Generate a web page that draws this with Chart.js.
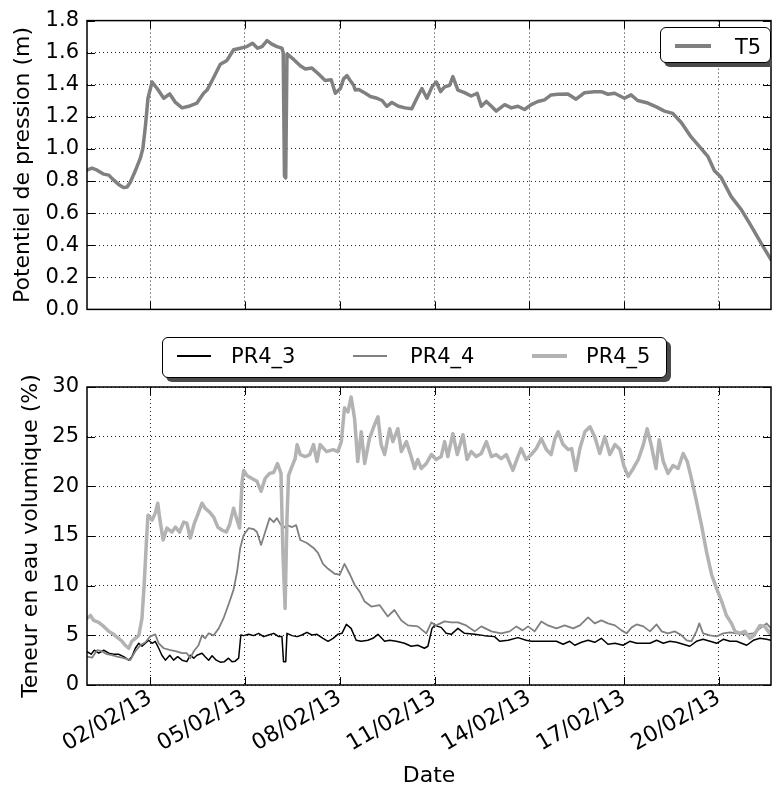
<!DOCTYPE html>
<html lang="fr">
<head>
  <meta charset="UTF-8">
  <title>Potentiel de pression et teneur en eau</title>
  <script src="https://cdn.jsdelivr.net/npm/chart.js"></script>
  <style>
    body { margin: 0; background: #fff; font-family: "DejaVu Sans", sans-serif; }
    #page { position: relative; width: 772px; height: 789px; overflow: hidden; }
    .plot { position: absolute; left: 0; width: 772px; }
    .lg { position: absolute; box-sizing: border-box; background: #fff; border: 1.5px solid #000;
          border-radius: 6px; box-shadow: 4px 4px 0 #4a4a4a; }
    .ln { position: absolute; }
    .tx { position: absolute; font-size: 21px; line-height: 21px; color: #000; white-space: nowrap; }
  </style>
</head>
<body>
<div id="page">
  <div class="plot" style="top:0;height:330px"><canvas id="hautChart"></canvas></div>
  <div class="plot" style="top:330px;height:459px"><canvas id="basChart"></canvas></div>

  <!-- legende haut -->
  <div class="lg" style="left:660px;top:27px;width:111px;height:36px"></div>
  <div class="ln" style="left:675px;top:44px;width:36px;height:3.5px;background:#808080"></div>
  <div class="tx" style="left:735px;top:37px">T5</div>

  <!-- legende bas -->
  <div class="lg" style="left:162px;top:337px;width:505px;height:41px"></div>
  <div class="ln" style="left:177px;top:355px;width:34px;height:1.5px;background:#000"></div>
  <div class="tx" style="left:231px;top:346px">PR4_3</div>
  <div class="ln" style="left:353px;top:355px;width:34px;height:1.8px;background:#808080"></div>
  <div class="tx" style="left:410px;top:346px">PR4_4</div>
  <div class="ln" style="left:532px;top:354px;width:35px;height:3.5px;background:#b3b3b3"></div>
  <div class="tx" style="left:586px;top:346px">PR4_5</div>
</div>

<script>
  // jours depuis le 31/01/13 00:00
  const xMax = 21.65;
  const tickDays = [2, 5, 8, 11, 14, 17, 20];
  const tickLabels = ['02/02/13', '05/02/13', '08/02/13', '11/02/13', '14/02/13', '17/02/13', '20/02/13'];

  // T5 - potentiel de pression (m)
  const t5Day = [0, 0.16, 0.32, 0.53, 0.69, 0.84, 1.0, 1.16, 1.27, 1.37,
    1.53, 1.69, 1.77, 1.85, 1.93, 2.06, 2.22, 2.43, 2.62, 2.80,
    3.01, 3.22, 3.48, 3.69, 3.80, 3.96, 4.22, 4.43, 4.64, 4.85,
    5.06, 5.24, 5.40, 5.54, 5.70, 5.85, 6.01, 6.17, 6.21, 6.25,
    6.29, 6.33, 6.54, 6.75, 6.91, 7.12, 7.33, 7.54, 7.73, 7.86,
    8.02, 8.12, 8.23, 8.33, 8.44, 8.49, 8.60, 8.81, 8.97, 9.18,
    9.34, 9.49, 9.65, 9.86, 10.07, 10.28, 10.44, 10.60, 10.76, 10.92,
    11.06, 11.19, 11.32, 11.48, 11.58, 11.74, 11.95, 12.16, 12.35, 12.48,
    12.64, 12.80, 12.95, 13.22, 13.43, 13.64, 13.85, 14.06, 14.27, 14.48,
    14.69, 14.90, 15.22, 15.48, 15.75, 16.06, 16.28, 16.49, 16.70, 17.01,
    17.22, 17.43, 17.75, 18.02, 18.28, 18.54, 18.81, 19.12, 19.34, 19.65,
    19.86, 20.07, 20.39, 20.71, 21.02, 21.34, 21.65];
  const t5Val = [0.868, 0.88, 0.868, 0.843, 0.837, 0.807, 0.779, 0.759, 0.763, 0.793,
    0.864, 0.944, 1.004, 1.145, 1.316, 1.417, 1.377, 1.316, 1.343, 1.29,
    1.256, 1.266, 1.286, 1.347, 1.367, 1.427, 1.528, 1.552, 1.618, 1.628,
    1.638, 1.659, 1.628, 1.638, 1.675, 1.653, 1.638, 1.628, 1.60, 0.83,
    0.82, 1.592, 1.558, 1.518, 1.498, 1.504, 1.467, 1.427, 1.431, 1.347,
    1.377, 1.437, 1.457, 1.427, 1.397, 1.367, 1.371, 1.347, 1.327, 1.316,
    1.302, 1.266, 1.29, 1.266, 1.256, 1.25, 1.316, 1.377, 1.316, 1.387,
    1.417, 1.357, 1.387, 1.397, 1.451, 1.367, 1.351, 1.33, 1.347, 1.266,
    1.296, 1.266, 1.236, 1.276, 1.256, 1.266, 1.246, 1.276, 1.296, 1.306,
    1.337, 1.341, 1.343, 1.31, 1.351, 1.357, 1.357, 1.341, 1.347, 1.316,
    1.337, 1.302, 1.286, 1.262, 1.236, 1.222, 1.165, 1.075, 1.025, 0.954,
    0.864, 0.823, 0.703, 0.622, 0.521, 0.411, 0.31];

  // PR4_3 - teneur en eau (%)
  const pr43Day = [0, 0.13, 0.23, 0.37, 0.53, 0.69, 0.84, 1.0, 1.16, 1.32,
    1.42, 1.53, 1.64, 1.74, 1.85, 1.95, 2.06, 2.16, 2.27, 2.37,
    2.48, 2.62, 2.74, 2.87, 3.01, 3.16, 3.27, 3.38, 3.48, 3.64,
    3.74, 3.85, 3.96, 4.09, 4.22, 4.35, 4.48, 4.59, 4.69, 4.80,
    4.87, 4.96, 5.12, 5.27, 5.43, 5.59, 5.75, 5.91, 6.07, 6.17,
    6.22, 6.29, 6.33, 6.49, 6.65, 6.80, 6.96, 7.12, 7.28, 7.47,
    7.63, 7.79, 7.94, 8.07, 8.21, 8.36, 8.52, 8.68, 8.89, 9.05,
    9.21, 9.42, 9.58, 9.79, 10.05, 10.26, 10.47, 10.68, 10.79, 10.92,
    11.0, 11.21, 11.37, 11.53, 11.74, 11.95, 12.27, 12.58, 12.90, 13.06,
    13.33, 13.64, 13.90, 14.06, 14.32, 14.59, 14.86, 15.07, 15.28, 15.44,
    15.65, 15.86, 16.07, 16.28, 16.49, 16.71, 16.97, 17.18, 17.40, 17.61,
    17.82, 18.03, 18.24, 18.45, 18.66, 18.87, 19.08, 19.29, 19.50, 19.72,
    19.93, 20.14, 20.35, 20.56, 20.88, 21.09, 21.30, 21.51, 21.65];
  const pr43Val = [3.35, 3.1, 3.5, 3.2, 3.5, 3.2, 3.1, 3.1, 2.85, 2.5,
    2.85, 3.7, 4.2, 3.9, 4.2, 4.5, 4.2, 4.4, 3.7, 3.0,
    2.5, 3.0, 2.5, 2.85, 2.5, 2.35, 3.0, 2.7, 3.0, 3.2,
    2.85, 2.5, 2.95, 2.5, 2.3, 2.35, 2.7, 2.35, 2.4, 2.7,
    5.03, 4.97, 5.1, 4.97, 5.2, 4.87, 5.03, 5.2, 4.87, 4.87,
    2.35, 2.35, 5.2, 4.97, 4.87, 5.03, 5.3, 5.03, 5.1, 4.7,
    4.4, 4.7, 5.1, 5.2, 6.1, 5.7, 4.5, 4.4, 4.5, 4.7,
    5.1, 4.4, 4.5, 4.4, 4.2, 3.9, 4.0, 3.7, 3.9, 5.7,
    6.0, 5.8, 5.2, 5.1, 5.7, 5.2, 5.1, 4.97, 4.87, 4.4,
    4.5, 4.77, 4.5, 4.4, 4.4, 4.4, 4.4, 4.1, 4.4, 4.0,
    4.3, 4.5, 4.3, 4.7, 4.1, 4.2, 4.0, 4.4, 4.2, 4.2,
    4.2, 4.5, 4.2, 4.4, 4.3, 4.1, 3.9, 4.4, 4.6, 4.4,
    4.2, 4.6, 4.4, 4.4, 4.0, 4.5, 4.7, 4.6, 4.5];

  // PR4_4
  const pr44Day = [0, 0.16, 0.32, 0.47, 0.63, 0.79, 0.95, 1.11, 1.27, 1.37,
    1.53, 1.69, 1.85, 2.0, 2.16, 2.27, 2.43, 2.64, 2.80, 3.01,
    3.16, 3.27, 3.38, 3.53, 3.64, 3.74, 3.85, 4.01, 4.17, 4.32,
    4.48, 4.64, 4.75, 4.85, 4.96, 5.12, 5.27, 5.38, 5.51, 5.64,
    5.78, 5.91, 6.01, 6.12, 6.22, 6.33, 6.49, 6.62, 6.75, 6.96,
    7.17, 7.31, 7.47, 7.63, 7.84, 8.0, 8.15, 8.31, 8.47, 8.63,
    8.79, 9.0, 9.26, 9.52, 9.73, 9.95, 10.16, 10.47, 10.74, 10.90,
    11.05, 11.32, 11.53, 11.74, 12.0, 12.27, 12.48, 12.80, 13.11, 13.38,
    13.59, 13.79, 13.96, 14.17, 14.38, 14.59, 14.86, 15.12, 15.39, 15.60,
    15.86, 16.07, 16.28, 16.49, 16.71, 16.92, 17.08, 17.24, 17.40, 17.61,
    17.82, 18.03, 18.19, 18.39, 18.60, 18.82, 18.98, 19.13, 19.29, 19.38,
    19.50, 19.72, 19.93, 20.14, 20.35, 20.56, 20.82, 21.09, 21.30, 21.51,
    21.65];
  const pr44Val = [2.85, 2.75, 3.5, 3.4, 3.1, 3.0, 2.85, 2.75, 2.6, 2.5,
    3.4, 4.0, 4.3, 4.9, 5.1, 4.2, 3.7, 3.5, 3.4, 3.2,
    3.2, 2.7, 3.4, 4.0, 5.0, 4.7, 5.2, 5.0, 5.7, 6.7,
    8.1, 9.6, 11.4, 13.8, 15.1, 15.8, 15.7, 15.4, 14.1, 15.4,
    16.8, 16.4, 16.8, 16.2, 15.8, 16.1, 15.9, 16.1, 14.6, 14.3,
    13.8, 13.3, 12.2, 11.7, 11.2, 11.1, 12.2, 11.2, 10.1, 9.4,
    8.4, 7.9, 8.05, 6.9, 7.55, 6.5, 6.0, 5.9, 5.2, 6.3,
    6.0, 6.4, 6.3, 6.3, 6.0, 5.4, 5.9, 5.4, 5.2, 5.4,
    5.9, 5.5, 5.9, 5.4, 6.4, 6.0, 5.7, 6.0, 5.7, 6.0,
    6.8, 6.2, 6.5, 6.2, 6.0, 5.5, 5.2, 5.8, 6.1, 5.9,
    5.4, 6.1, 5.4, 5.2, 5.4, 5.0, 4.5, 4.4, 5.4, 6.2,
    5.2, 5.0, 4.9, 5.2, 5.3, 5.2, 5.1, 5.2, 5.7, 6.2,
    5.7];

  // PR4_5
  const pr45Day = [0, 0.11, 0.21, 0.37, 0.53, 0.69, 0.84, 1.0, 1.11, 1.21,
    1.32, 1.42, 1.53, 1.64, 1.74, 1.81, 1.88, 1.93, 2.06, 2.16,
    2.24, 2.30, 2.41, 2.53, 2.69, 2.80, 2.93, 3.06, 3.16, 3.27,
    3.40, 3.50, 3.64, 3.74, 3.88, 4.01, 4.14, 4.27, 4.41, 4.51,
    4.64, 4.73, 4.83, 4.91, 4.96, 5.06, 5.22, 5.38, 5.51, 5.64,
    5.78, 5.91, 6.03, 6.14, 6.20, 6.27, 6.33, 6.38, 6.49, 6.59,
    6.65, 6.75, 6.91, 7.05, 7.17, 7.28, 7.38, 7.58, 7.79, 7.94,
    8.05, 8.15, 8.26, 8.36, 8.47, 8.57, 8.68, 8.79, 8.94, 9.10,
    9.21, 9.31, 9.42, 9.58, 9.68, 9.84, 9.95, 10.11, 10.26, 10.37,
    10.47, 10.58, 10.74, 10.90, 11.05, 11.21, 11.32, 11.42, 11.58, 11.72,
    11.90, 12.03, 12.16, 12.32, 12.48, 12.64, 12.80, 12.95, 13.11, 13.27,
    13.48, 13.64, 13.74, 13.90, 14.06, 14.22, 14.38, 14.54, 14.69, 14.81,
    14.91, 15.07, 15.23, 15.34, 15.47, 15.60, 15.76, 15.92, 16.07, 16.23,
    16.39, 16.55, 16.71, 16.87, 16.99, 17.13, 17.29, 17.45, 17.61, 17.73,
    17.87, 18.01, 18.11, 18.24, 18.39, 18.55, 18.71, 18.87, 19.00, 19.13,
    19.29, 19.45, 19.61, 19.77, 19.93, 20.09, 20.24, 20.40, 20.51, 20.67,
    20.82, 20.98, 21.11, 21.30, 21.45, 21.61, 21.65];
  const pr45Val = [6.7, 7.0, 6.5, 6.3, 5.9, 5.4, 5.1, 4.7, 4.4, 4.0,
    3.7, 4.4, 4.7, 5.0, 6.7, 10.1, 14.4, 17.1, 16.6, 17.3,
    18.3, 16.8, 14.6, 15.8, 15.4, 15.9, 15.4, 16.4, 16.3, 14.8,
    16.3, 17.1, 18.3, 17.8, 17.4, 16.9, 15.9, 15.6, 15.4, 16.1,
    17.8, 16.8, 15.8, 20.5, 21.6, 21.1, 20.8, 20.5, 19.5, 20.8,
    21.3, 21.4, 22.3, 21.3, 13.4, 7.7, 16.8, 21.1, 22.0, 22.8,
    24.2, 23.2, 23.0, 23.2, 24.2, 22.5, 24.2, 23.5, 23.7, 23.5,
    24.5, 27.9, 27.5, 29.0, 26.8, 22.5, 25.5, 22.3, 24.8, 26.2,
    27.0, 24.2, 23.2, 25.8, 24.5, 25.8, 23.5, 24.5, 23.0, 21.8,
    22.7, 21.8, 22.3, 23.2, 22.7, 23.0, 24.5, 23.0, 25.3, 23.2,
    25.2, 22.7, 23.5, 23.0, 23.3, 24.5, 23.0, 23.2, 22.8, 23.2,
    21.6, 23.0, 23.8, 22.7, 23.2, 23.8, 24.8, 23.7, 23.2, 24.8,
    25.5, 24.2, 23.7, 23.8, 21.6, 23.8, 25.5, 26.0, 25.0, 23.3,
    25.0, 23.2, 24.2, 23.7, 22.1, 21.0, 21.8, 22.7, 24.2, 25.8,
    24.0, 21.8, 24.7, 22.5, 21.3, 22.1, 21.8, 23.3, 22.5, 20.8,
    18.5, 16.1, 13.4, 11.1, 9.7, 8.4, 7.0, 6.2, 5.4, 5.2,
    5.4, 4.7, 5.0, 6.0, 5.9, 5.2, 5.5];

  const points = (days, vals) => days.map((d, i) => ({ x: d, y: vals[i] }));

  Chart.defaults.font.family = '"DejaVu Sans", sans-serif';
  Chart.defaults.color = '#000';

  // cadre complet + graduations vers l'interieur (style matplotlib)
  const cadre = {
    id: 'cadre',
    afterDatasetsDraw(chart) {
      const { ctx, chartArea: a, scales: { x, y } } = chart;
      ctx.save();
      ctx.strokeStyle = '#000';
      ctx.lineWidth = 1;
      ctx.beginPath();
      x.ticks.forEach(t => {
        const px = Math.round(x.getPixelForValue(t.value)) + 0.5;
        ctx.moveTo(px, a.bottom); ctx.lineTo(px, a.bottom - 8);
        ctx.moveTo(px, a.top); ctx.lineTo(px, a.top + 8);
      });
      y.ticks.forEach(t => {
        const py = Math.round(y.getPixelForValue(t.value)) + 0.5;
        ctx.moveTo(a.left, py); ctx.lineTo(a.left + 8, py);
        ctx.moveTo(a.right, py); ctx.lineTo(a.right - 8, py);
      });
      ctx.stroke();
      ctx.lineWidth = 1.5;
      ctx.strokeRect(a.left, a.top, a.right - a.left, a.bottom - a.top);
      ctx.restore();
    }
  };

  function xAxis(showLabels, height) {
    return {
      type: 'linear',
      min: 0,
      max: xMax,
      afterBuildTicks: s => { s.ticks = tickDays.map(v => ({ value: v })); },
      afterFit: s => { s.height = height; },
      grid: { color: 'rgba(0,0,0,0.85)', lineWidth: 1, drawTicks: false },
      border: { display: false, dash: [1, 3] },
      ticks: {
        display: showLabels,
        autoSkip: false,
        minRotation: 30,
        maxRotation: 30,
        padding: 0,
        font: { size: 22 },
        callback: (v, i) => tickLabels[i]
      },
      title: {
        display: showLabels,
        text: 'Date',
        font: { size: 22 },
        padding: { top: 0, bottom: 0 }
      }
    };
  }

  function yAxis(max, step, digits, label, titlePad) {
    return {
      min: 0,
      max: max,
      afterFit: s => { s.width = 87; },
      grid: { color: 'rgba(0,0,0,0.85)', lineWidth: 1, drawTicks: false },
      border: { display: false, dash: [1, 3] },
      ticks: {
        stepSize: step,
        padding: 8,
        font: { size: 21 },
        callback: v => v.toFixed(digits)
      },
      title: {
        display: true,
        text: label,
        font: { size: 22 },
        padding: { top: titlePad, bottom: 0 }
      }
    };
  }

  const commonOptions = {
    responsive: true,
    maintainAspectRatio: false,
    animation: false,
    devicePixelRatio: 1,
    plugins: { legend: { display: false }, tooltip: { enabled: false } },
    elements: { point: { radius: 0 }, line: { tension: 0, borderJoinStyle: 'round', borderCapStyle: 'round' } }
  };

  new Chart(document.getElementById('hautChart'), {
    type: 'line',
    data: {
      datasets: [{
        label: 'T5',
        data: points(t5Day, t5Val),
        borderColor: '#808080',
        borderWidth: 3.5
      }]
    },
    options: {
      ...commonOptions,
      layout: { padding: { top: 15, right: 1, left: 0, bottom: 0 } },
      scales: {
        x: xAxis(false, 17),
        y: yAxis(1.8, 0.2, 1, 'Potentiel de pression (m)', 10)
      }
    },
    plugins: [cadre]
  });

  new Chart(document.getElementById('basChart'), {
    type: 'line',
    data: {
      datasets: [
        { label: 'PR4_3', data: points(pr43Day, pr43Val), borderColor: '#000000', borderWidth: 1.5, order: 2 },
        { label: 'PR4_4', data: points(pr44Day, pr44Val), borderColor: '#808080', borderWidth: 1.8, order: 1 },
        { label: 'PR4_5', data: points(pr45Day, pr45Val), borderColor: '#b3b3b3', borderWidth: 3.5, order: 0 }
      ]
    },
    options: {
      ...commonOptions,
      layout: { padding: { top: 57, right: 1, left: 0, bottom: 0 } },
      scales: {
        x: xAxis(true, 104),
        y: yAxis(30, 5, 0, 'Teneur en eau volumique (%)', 18)
      }
    },
    plugins: [cadre]
  });
</script>
</body>
</html>
